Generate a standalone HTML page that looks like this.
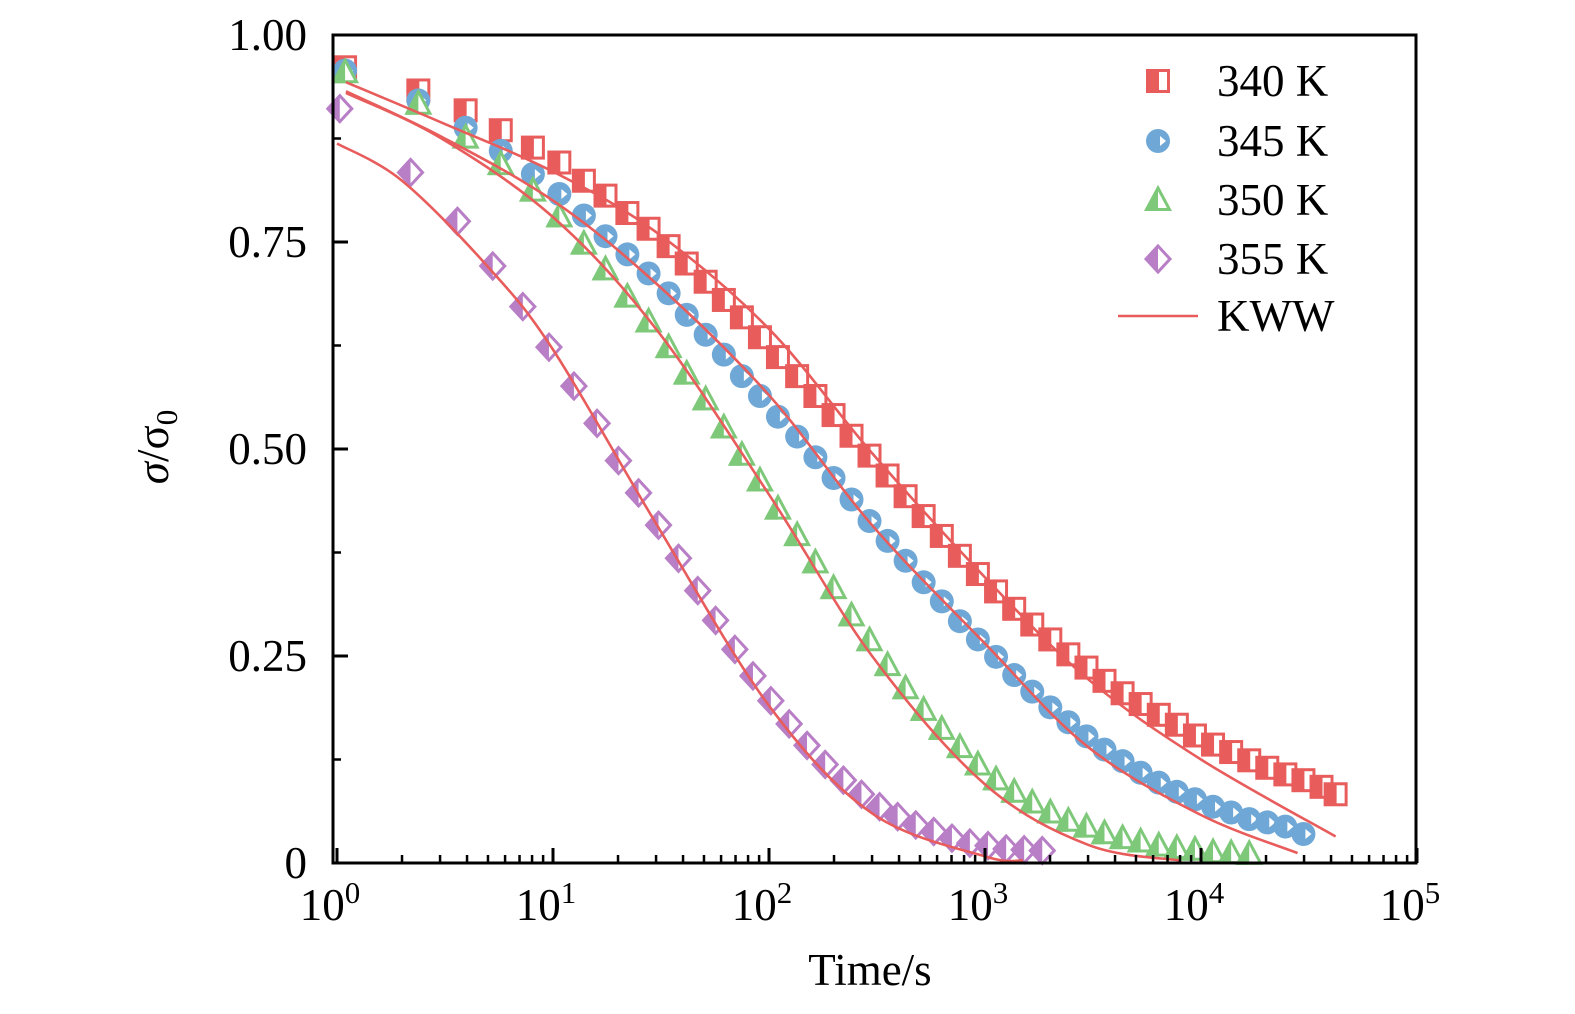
<!DOCTYPE html>
<html><head><meta charset="utf-8"><style>
html,body{margin:0;padding:0;background:#fff;}
svg{display:block;font-family:"Liberation Serif","DejaVu Serif",serif;}
</style></head><body>
<svg id="chart" width="1575" height="1014" viewBox="0 0 1575 1014" xmlns="http://www.w3.org/2000/svg">
<rect width="1575" height="1014" fill="#fff"/>
<g id="plot"></g>
<g id="axes"></g>
<g id="legend"></g>
</svg>
<script>
const yTicks=[0,0.25,0.5,0.75,1.0];
const yTickLabels=["0","0.25","0.50","0.75","1.00"];
const xDecades=[0,1,2,3,4,5];
const tGrid=[1.09,2.38,3.94,5.73,8.07,10.7,13.9,17.5,22.1,27.7,34.3,41.6,50.9,61.8,74.9,90.8,110,135,164,199,241,292,354,429,520,631,765,927,1125,1365,1655,2006,2432,2950,3575,4335,5255,6375,7730,9375,11370,13790,16720,20270,24580,29800,36140,42000];
const tPurple=[1.03,2.19,3.61,5.26,7.25,9.58,12.5,16.0,20.1,24.9,30.8,38.1,46.8,56.6,69.5,84.3,102,124,150,182,221,268,325,394,478,579,703,851,1033,1253,1518,1841];
const v340=[0.961,0.933,0.909,0.885,0.864,0.846,0.824,0.806,0.785,0.766,0.745,0.724,0.702,0.680,0.659,0.635,0.611,0.588,0.564,0.541,0.516,0.492,0.468,0.443,0.419,0.395,0.371,0.349,0.328,0.307,0.288,0.270,0.252,0.236,0.220,0.205,0.192,0.179,0.167,0.154,0.143,0.134,0.124,0.115,0.107,0.100,0.092,0.083];
const v345=[0.957,0.921,0.888,0.860,0.832,0.808,0.782,0.757,0.735,0.712,0.688,0.662,0.638,0.614,0.588,0.564,0.539,0.515,0.490,0.465,0.439,0.413,0.389,0.365,0.339,0.316,0.292,0.270,0.249,0.227,0.207,0.188,0.170,0.153,0.137,0.123,0.109,0.097,0.086,0.077,0.068,0.061,0.053,0.049,0.044,0.035];
const v350=[0.955,0.917,0.876,0.844,0.812,0.781,0.748,0.717,0.684,0.654,0.623,0.591,0.560,0.526,0.493,0.462,0.428,0.396,0.363,0.332,0.299,0.269,0.239,0.211,0.185,0.162,0.140,0.119,0.101,0.086,0.073,0.061,0.051,0.044,0.036,0.030,0.026,0.021,0.018,0.016,0.013,0.012,0.011];
const v355=[0.911,0.834,0.775,0.721,0.672,0.623,0.576,0.531,0.486,0.447,0.408,0.368,0.329,0.293,0.258,0.226,0.196,0.168,0.142,0.119,0.100,0.083,0.068,0.056,0.046,0.038,0.030,0.024,0.021,0.017,0.016,0.015];
const fitT340=[1.1,3,10,30,100,300,1000,3000,10000,42000];
const fitV340=[0.943,0.895,0.835,0.762,0.645,0.495,0.345,0.222,0.125,0.032];
const fitT345=[1.1,3,10,30,100,300,1000,3000,10000,28000];
const fitV345=[0.932,0.878,0.800,0.700,0.565,0.408,0.265,0.140,0.058,0.012];
const fitT350=[1.1,3,10,30,100,300,1000,3000,8000];
const fitV350=[0.930,0.876,0.780,0.645,0.445,0.250,0.095,0.022,0.003];
const fitT355=[1,2,5,10,30,100,300,1000,1500];
const fitV355=[0.869,0.824,0.720,0.620,0.410,0.190,0.060,0.008,0.003];

const X0=337,DEC=216,Y0=863,YH=828,L=333,R=1416,T=35;
const xs=t=>X0+Math.log10(t)*DEC;
const ys=v=>Y0-v*YH;
const NS="http://www.w3.org/2000/svg";
function mk(tag,attrs,parent){const e=document.createElementNS(NS,tag);for(const k in attrs)e.setAttribute(k,attrs[k]);parent.appendChild(e);return e;}
const plot=document.getElementById('plot'),axes=document.getElementById('axes'),legend=document.getElementById('legend');
const RED="#e85c5c",BLUE="#6fa8d6",GREEN="#7ec87a",PURP="#b87ec6";

function square(g,x,y,c){
  mk('rect',{x:x-10.5,y:y-10.5,width:21,height:21,fill:'#fff',stroke:c,'stroke-width':3},g);
  mk('rect',{x:x-10.5,y:y-10.5,width:11.5,height:21,fill:c},g);
}
function circle(g,x,y,c){
  mk('circle',{cx:x,cy:y,r:12,fill:c},g);
  mk('path',{d:`M${x+2},${y-5} L${x+8},${y} L${x+2},${y+5} Z`,fill:'#fff'},g);
}
function tri(g,x,y,c){
  mk('path',{d:`M${x},${y-12} L${x+11.5},${y+9.5} L${x-11.5},${y+9.5} Z`,fill:'#fff',stroke:c,'stroke-width':3,'stroke-linejoin':'miter'},g);
  mk('path',{d:`M${x},${y-12} L${x},${y+11} L${x-12.5},${y+11} Z`,fill:c},g);
}
function diamond(g,x,y,c){
  mk('path',{d:`M${x},${y-13} L${x+12},${y} L${x},${y+13} L${x-12},${y} Z`,fill:'#fff',stroke:c,'stroke-width':3},g);
  mk('path',{d:`M${x},${y-14} L${x},${y+14} L${x-13},${y} Z`,fill:c},g);
}
function series(name,times,vals,fn,c){
  const g=mk('g',{},plot);
  
  
  vals.forEach((v,i)=>{const m=mk('g',{},g);
    
    
    fn(m,xs(times[i]),ys(v),c);});
}
function curve(name,times,vals){
  const p=times.map((t,i)=>[xs(t),ys(vals[i])]);
  let d=`M${p[0][0]},${p[0][1]}`;
  for(let i=0;i<p.length-1;i++){
    const p0=p[Math.max(0,i-1)],p1=p[i],p2=p[i+1],p3=p[Math.min(p.length-1,i+2)];
    const c1=[p1[0]+(p2[0]-p0[0])/6,p1[1]+(p2[1]-p0[1])/6];
    const c2=[p2[0]-(p3[0]-p1[0])/6,p2[1]-(p3[1]-p1[1])/6];
    d+=` C${c1[0]},${c1[1]} ${c2[0]},${c2[1]} ${p2[0]},${p2[1]}`;
  }
  const e=mk('path',{d:d,fill:'none',stroke:RED,'stroke-width':2.6},plot);
  
  
}
series('series-340k',tGrid,v340,square,RED);
series('series-345k',tGrid,v345,circle,BLUE);
series('series-350k',tGrid,v350,tri,GREEN);
series('series-355k',tPurple,v355,diamond,PURP);
curve('kww-fit-340k',fitT340,fitV340);
curve('kww-fit-345k',fitT345,fitV345);
curve('kww-fit-350k',fitT350,fitV350);
curve('kww-fit-355k',fitT355,fitV355);

const fr=mk('rect',{x:L,y:T,width:R-L,height:Y0-T,fill:'none',stroke:'#000','stroke-width':3},axes);


yTicks.forEach((v,i)=>{
  mk('line',{x1:L,x2:L+15,y1:ys(v),y2:ys(v),stroke:'#000','stroke-width':3},axes);
  if(i<yTicks.length-1){const vm=v+0.125;mk('line',{x1:L,x2:L+8,y1:ys(vm),y2:ys(vm),stroke:'#000','stroke-width':2.5},axes);}
  const t=mk('text',{x:307,y:ys(v)+15,'text-anchor':'end','font-size':45},axes);
  t.textContent=yTickLabels[i];
  
  
});
xDecades.forEach((d,i)=>{
  const x=X0+d*DEC;
  if(x<=R+1) mk('line',{x1:x,x2:x,y1:Y0,y2:Y0-15,stroke:'#000','stroke-width':3},axes);
  if(i<xDecades.length-1){for(let k=2;k<10;k++){const xm=X0+(d+Math.log10(k))*DEC;mk('line',{x1:xm,x2:xm,y1:Y0,y2:Y0-8,stroke:'#000','stroke-width':2.5},axes);}}
  const t=mk('text',{x:x-7,y:920,'text-anchor':'middle','font-size':45},axes);
  t.textContent='10';
  
  
  const s=mk('tspan',{dy:-17,'font-size':31},t);s.textContent=String(d);
});
const xt=mk('text',{x:870,y:985,'text-anchor':'middle','font-size':45},axes);
xt.textContent='Time/s';


const yt=mk('text',{x:0,y:0,'text-anchor':'middle','font-size':45,'font-style':'italic',transform:'translate(168,447) rotate(-90)'},axes);


yt.appendChild(document.createTextNode('σ'));
const ts1=mk('tspan',{'font-style':'normal'},yt);ts1.textContent='/σ';
const ts2=mk('tspan',{dy:9,'font-size':31,'font-style':'normal'},yt);ts2.textContent='0';

const legNames=["340 K","345 K","350 K","355 K"];
const legFns=[square,circle,tri,diamond],legCols=[RED,BLUE,GREEN,PURP],legY=[81,141,200,259];
legNames.forEach((n,i)=>{
  const g=mk('g',{},legend);
  
  
  legFns[i](g,1158,legY[i],legCols[i]);
  const t=mk('text',{x:1217,y:legY[i]+15,'font-size':45},g);t.textContent=n;
});
const kg=mk('g',{},legend);


mk('line',{x1:1118,x2:1198,y1:316,y2:316,stroke:RED,'stroke-width':2.6},kg);
const kt=mk('text',{x:1217,y:331,'font-size':45},kg);kt.textContent='KWW';
</script>
</body></html>
